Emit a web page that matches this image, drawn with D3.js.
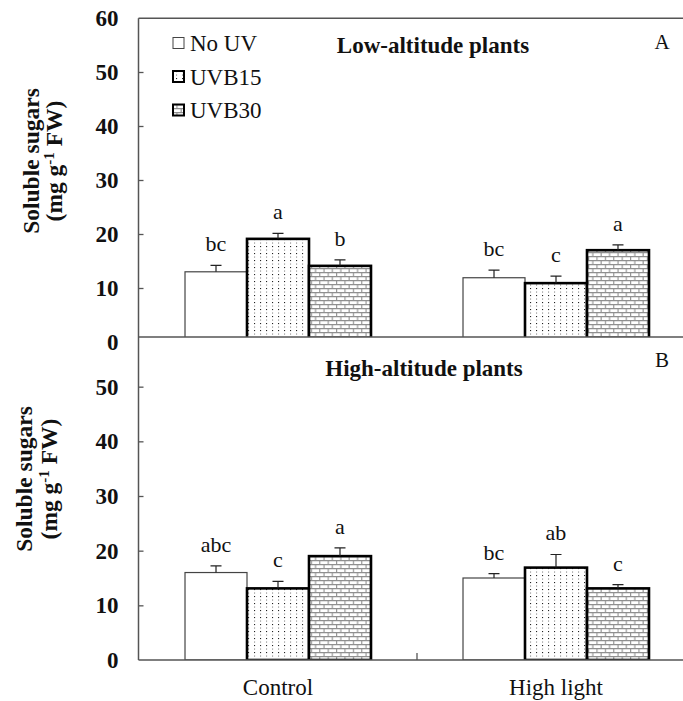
<!DOCTYPE html>
<html><head><meta charset="utf-8">
<script src="https://cdn.jsdelivr.net/npm/d3@7"></script>
<style>
body{margin:0;background:#fff;}
svg text{font-family:"Liberation Serif","Times New Roman",Times,serif;fill:#111;}
</style></head>
<body><svg id="c" width="683" height="701"></svg>
<script>
// ---- data ----
const categories = ["Control", "High light"];
const series = ["No UV", "UVB15", "UVB30"];
// order: Control (No UV, UVB15, UVB30), High light (No UV, UVB15, UVB30)
const lowMean = [13.0, 19.1, 14.1, 11.9, 10.9, 17.0];
const lowErr = [1.2, 1.0, 1.1, 1.4, 1.3, 1.0];
const lowLetters = ["bc", "a", "b", "bc", "c", "a"];
const highMean = [16.0, 13.1, 19.0, 15.0, 16.9, 13.1];
const highErr = [1.2, 1.3, 1.5, 0.8, 2.4, 0.7];
const highLetters = ["abc", "c", "a", "bc", "ab", "c"];
const yTicks = [0, 10, 20, 30, 40, 50, 60];
const panelTitles = ["Low-altitude plants", "High-altitude plants"];
const panelTags = ["A", "B"];

const svg = d3.select("#c");
const defs = svg.append("defs");

// patterns
const pd = defs.append("pattern").attr("id","dots").attr("patternUnits","userSpaceOnUse")
  .attr("width",6).attr("height",7);
pd.append("rect").attr("width",6).attr("height",7).attr("fill","#fff");
pd.append("rect").attr("x",2).attr("y",1).attr("width",1.1).attr("height",1.1).attr("fill","#222");
pd.append("rect").attr("x",2).attr("y",4.5).attr("width",1.1).attr("height",1.1).attr("fill","#888");

const pb = defs.append("pattern").attr("id","brick").attr("patternUnits","userSpaceOnUse")
  .attr("width",8.4).attr("height",8);
pb.append("rect").attr("width",8.4).attr("height",8).attr("fill","#fff");
pb.append("path").attr("d","M0,0.6H8.4M0,4.6H8.4M0.6,0.6V4.6M4.8,4.6V8")
  .attr("stroke","#8f8f8f").attr("stroke-width",1.1).attr("fill","none");

const fills = ["#fff", "url(#dots)", "url(#brick)"];
const strokes = ["#444", "#000", "#000"];
const strokeW = [1.2, 2.6, 2.6];

// layout
const xLeft = 138.5, xRight = 695;
const x0 = d3.scaleBand().domain(categories).range([139, xRight]).paddingInner(0.331).paddingOuter(0.1655);
const x1 = d3.scaleBand().domain(series).range([0, x0.bandwidth()]);

const panels = [
  {mean: lowMean, err: lowErr, letters: lowLetters, y: d3.scaleLinear([0,60],[342,18]),
   top: 18.3, base: 337, ticks: yTicks, title: panelTitles[0], tag: panelTags[0],
   titleX: 433, titleY: 53, tagX: 662, tagY: 49, labX: [39, 62], labY: 161},
  {mean: highMean, err: highErr, letters: highLetters, y: d3.scaleLinear([0,60],[660,332]),
   top: 337, base: 660, ticks: yTicks.slice(0, 6), title: panelTitles[1], tag: panelTags[1],
   titleX: 424, titleY: 376, tagX: 662, tagY: 367, labX: [32, 57], labY: 479}
];

panels.forEach((p, pi) => {
  const g = svg.append("g");
  const clipId = "clip" + pi;
  defs.append("clipPath").attr("id", clipId).append("rect")
    .attr("x", xLeft).attr("y", p.top).attr("width", 683 - xLeft).attr("height", p.base - p.top);

  const rows = [];
  categories.forEach((c, ci) => series.forEach((s, si) => {
    const k = ci * 3 + si;
    rows.push({c, s, si, v: p.mean[k], e: p.err[k], l: p.letters[k]});
  }));

  // bars
  g.append("g").attr("clip-path", `url(#${clipId})`).selectAll("rect").data(rows).join("rect")
    .attr("x", d => x0(d.c) + x1(d.s))
    .attr("y", d => p.y(d.v))
    .attr("width", x1.bandwidth())
    .attr("height", d => p.y(0) - p.y(d.v))
    .attr("fill", d => fills[d.si]).attr("stroke", d => strokes[d.si]).attr("stroke-width", d => strokeW[d.si]);

  // error bars
  const eg = g.append("g").attr("stroke", "#222").attr("stroke-width", 1.2).attr("fill", "none");
  eg.selectAll("path").data(rows).join("path")
    .attr("d", d => {
      const cx = x0(d.c) + x1(d.s) + x1.bandwidth() / 2;
      const y1 = p.y(d.v), y2 = p.y(d.v + d.e);
      return `M${cx},${y1}V${y2}M${cx - 5.5},${y2}H${cx + 5.5}`;
    });

  // letters
  g.selectAll("text.let").data(rows).join("text").attr("class","let")
    .attr("x", d => x0(d.c) + x1(d.s) + x1.bandwidth() / 2)
    .attr("y", d => p.y(d.v + d.e) - 14)
    .attr("text-anchor", "middle").attr("font-size", 22).text(d => d.l);

  // y axis
  const ax = d3.axisLeft(p.y).tickValues(p.ticks).tickSizeInner(-5).tickSizeOuter(0).tickPadding(20);
  const ag = g.append("g").attr("transform", `translate(${xLeft},0)`).call(ax);
  ag.select(".domain").remove();
  ag.selectAll(".tick line").attr("stroke", "#555").attr("stroke-width", 1.3)
    .attr("display", d => (d === 0 || d === 60) ? "none" : null);
  ag.selectAll(".tick text").attr("font-size", 23).attr("font-weight", "bold")
    .attr("font-family", "Liberation Serif, Times New Roman, serif").attr("fill", "#111");

  // axis lines
  g.append("line").attr("x1", xLeft).attr("x2", xLeft).attr("y1", p.top).attr("y2", p.base)
    .attr("stroke", "#555").attr("stroke-width", 1.5);
  g.append("line").attr("x1", xLeft).attr("x2", 683).attr("y1", p.base).attr("y2", p.base)
    .attr("stroke", "#555").attr("stroke-width", 1.4);
  if (pi === 0) {
    g.append("line").attr("x1", xLeft).attr("x2", 683).attr("y1", p.top).attr("y2", p.top)
      .attr("stroke", "#555").attr("stroke-width", 1.4);
  }

  // titles
  g.append("text").attr("x", p.titleX).attr("y", p.titleY).attr("text-anchor", "middle")
    .attr("font-size", 23).attr("font-weight", "bold").text(p.title);
  g.append("text").attr("x", p.tagX).attr("y", p.tagY).attr("text-anchor", "middle")
    .attr("font-size", 21).text(p.tag);

  // y axis label
  g.append("text").attr("transform", `translate(${p.labX[0]},${p.labY}) rotate(-90)`)
    .attr("text-anchor", "middle").attr("font-size", 23.5).attr("font-weight", "bold").text("Soluble sugars");
  const t2 = g.append("text").attr("transform", `translate(${p.labX[1]},${p.labY}) rotate(-90)`)
    .attr("text-anchor", "middle").attr("font-size", 23.5).attr("font-weight", "bold");
  t2.append("tspan").text("(mg g");
  t2.append("tspan").attr("font-size", 15).attr("dy", -8).text("-1");
  t2.append("tspan").attr("dy", 8).text(" FW)");
});

// separator tick on bottom axis
const sepX = (x0(categories[0]) + x0.bandwidth() + x0(categories[1])) / 2;
svg.append("line").attr("x1", sepX).attr("x2", sepX).attr("y1", 660).attr("y2", 653)
  .attr("stroke", "#555").attr("stroke-width", 1.3);

// category labels
svg.selectAll("text.cat").data(categories).join("text").attr("class","cat")
  .attr("x", d => x0(d) + x0.bandwidth() / 2).attr("y", 695)
  .attr("text-anchor", "middle").attr("font-size", 23).text(d => d);

// legend
const lg = svg.append("g");
series.forEach((s, i) => {
  const cy = 43 + i * 33.5;
  lg.append("rect").attr("x", 173).attr("y", cy - 5.5).attr("width", 11).attr("height", 11)
    .attr("fill", fills[i]).attr("stroke", i === 0 ? "#444" : "#000").attr("stroke-width", i === 0 ? 1 : 2);
  lg.append("text").attr("x", 190).attr("y", cy + 8).attr("font-size", 23).text(s);
});
</script></body></html>
